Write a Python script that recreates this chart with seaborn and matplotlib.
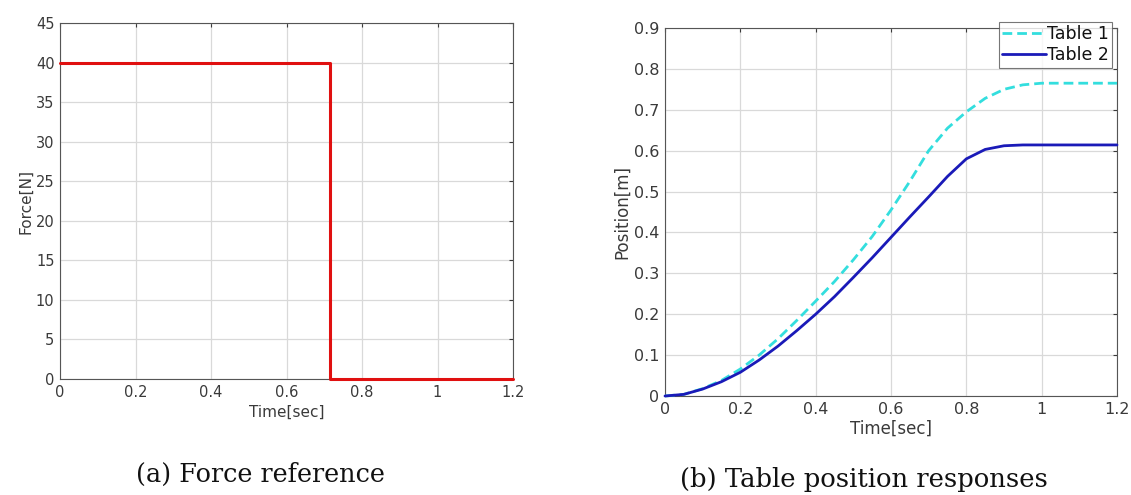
import numpy as np
import pandas as pd
import matplotlib
matplotlib.use("Agg")
import matplotlib.pyplot as plt
import seaborn as sns

# Force reference (step input)
force_time = [0.0, 0.715, 0.715, 1.2]
force_value = [40.0, 40.0, 0.0, 0.0]

# Table position responses
pos_time = [0.0, 0.05, 0.1, 0.15, 0.2, 0.25, 0.3, 0.35, 0.4, 0.45, 0.5, 0.55,
            0.6, 0.65, 0.7, 0.75, 0.8, 0.85, 0.9, 0.95, 1.0, 1.05, 1.1, 1.15, 1.2]
table1_pos = [0.0, 0.004, 0.018, 0.038, 0.066, 0.100, 0.140, 0.185, 0.232, 0.280,
              0.333, 0.390, 0.455, 0.525, 0.600, 0.655, 0.695, 0.728, 0.750, 0.761,
              0.765, 0.765, 0.765, 0.765, 0.765]
table2_pos = [0.0, 0.004, 0.017, 0.035, 0.058, 0.088, 0.122, 0.160, 0.200, 0.243,
              0.290, 0.338, 0.388, 0.438, 0.487, 0.537, 0.580, 0.603, 0.612, 0.614,
              0.614, 0.614, 0.614, 0.614, 0.614]

sns.set_style("white")
plt.rcParams["font.family"] = ["DejaVu Sans"]
text_color = "#3a3a3a"

W, H = 1131, 495
fig = plt.figure(figsize=(W / 100, H / 100), dpi=100)


def px_axes(x0, y0, x1, y1):
    """Axes rectangle given in pixel coordinates (origin top-left)."""
    return fig.add_axes([x0 / W, 1 - y1 / H, (x1 - x0) / W, (y1 - y0) / H])


ax1 = px_axes(60, 23, 513, 379)
ax2 = px_axes(665, 28, 1117, 396)

df_force = pd.DataFrame({"Time": force_time, "Force": force_value})
sns.lineplot(data=df_force, x="Time", y="Force", ax=ax1, color="#e01010",
             linewidth=2.2, sort=False, estimator=None)
for ln in ax1.lines:
    ln.set_clip_on(False)
    ln.set_zorder(5)

df_pos = pd.DataFrame({
    "Time": pos_time * 2,
    "Position": table1_pos + table2_pos,
    "Series": ["Table 1"] * len(pos_time) + ["Table 2"] * len(pos_time),
})
sns.lineplot(data=df_pos, x="Time", y="Position", hue="Series", style="Series",
             palette={"Table 1": "#33dede", "Table 2": "#1a1ab8"},
             dashes={"Table 1": (3.5, 1.8), "Table 2": ""},
             linewidth=2.0, ax=ax2, estimator=None, sort=False)
for ln in ax2.lines:
    ln.set_clip_on(False)
    ln.set_zorder(5)


def style_axes(ax, ylim, yticks, ylabel, fs, xpad):
    ax.set_xlim(0, 1.2)
    ax.set_ylim(*ylim)
    ax.set_xticks([0, 0.2, 0.4, 0.6, 0.8, 1.0, 1.2])
    ax.set_xticklabels(["0", "0.2", "0.4", "0.6", "0.8", "1", "1.2"])
    ax.set_yticks(yticks)
    ax.grid(True, color="#d9d9d9", linewidth=0.9)
    ax.set_axisbelow(True)
    for s in ax.spines.values():
        s.set_visible(True)
        s.set_color("#555555")
        s.set_linewidth(0.8)
    ax.tick_params(direction="in", length=3, labelsize=fs, colors=text_color,
                   top=True, right=True, pad=4)
    ax.set_xlabel("Time[sec]", fontsize=fs + 0.5, color=text_color, labelpad=xpad)
    ax.set_ylabel(ylabel, fontsize=fs + 0.5, color=text_color, labelpad=2)


style_axes(ax1, (0, 45), list(range(0, 46, 5)), "Force[N]", 10.5, 4)
style_axes(ax2, (0, 0.9), [round(0.1 * i, 1) for i in range(10)], "Position[m]", 11.5, 2)
ax2.set_yticklabels(["0"] + [f"{0.1 * i:.1f}" for i in range(1, 10)])

leg = ax2.legend(loc="upper right", bbox_to_anchor=(1112 / W, 1 - 22 / H),
                 bbox_transform=fig.transFigure, fontsize=12.5, frameon=True,
                 fancybox=False, handlelength=2.5, handletextpad=0.05,
                 borderpad=0.2, labelspacing=0.15, borderaxespad=0.0)
leg.get_frame().set_edgecolor("#555555")
leg.get_frame().set_linewidth(0.8)
leg.set_zorder(10)
for t in leg.get_texts():
    t.set_color("#111111")

# Subfigure captions, sized to their printed widths
renderer = fig.canvas.get_renderer()


def caption(cx, cy, s, width_px):
    t = fig.text(cx / W, 1 - cy / H, s, ha="center", va="center", fontsize=16,
                 family="DejaVu Serif", color="#111111")
    w = t.get_window_extent(renderer).width
    t.set_fontsize(16 * width_px / w)
    return t


caption(260, 474, "(a) Force reference", 250)
caption(864, 480, "(b) Table position responses", 369)

fig.savefig("out.png", dpi=100)
